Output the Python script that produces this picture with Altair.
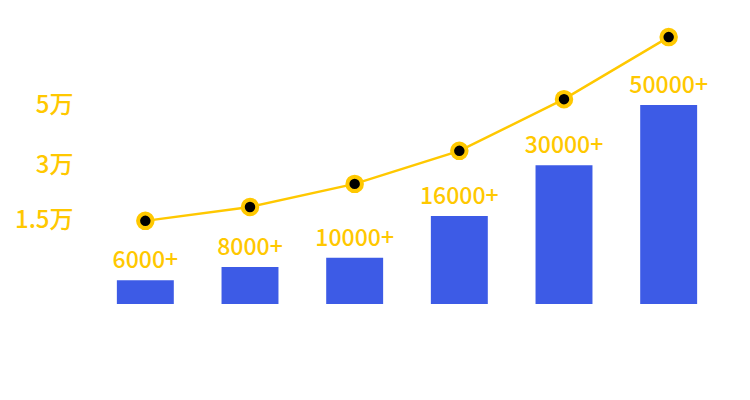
import altair as alt
import pandas as pd

categories = ["A", "B", "C", "D", "E", "F"]
bar_values = [6000, 9300, 11600, 22100, 34900, 50000]
bar_labels = ["6000+", "8000+", "10000+", "16000+", "30000+", "50000+"]
line_values = [20900, 24400, 30200, 38500, 51500, 67100]
tick_values = [20900, 34900, 50000]
tick_labels = ["1.5万", "3万", "5万"]

GOLD = "#FFC800"
BLUE = "#3D5BE6"
FONT = "Noto Sans CJK SC"

df = pd.DataFrame({"cat": categories, "bar": bar_values, "label": bar_labels, "line": line_values})

label_expr = "{" + ",".join(f"'{v}':'{t}'" for v, t in zip(tick_values, tick_labels)) + "}[datum.value]"

x = alt.X("cat:N", sort=categories, axis=None,
          scale=alt.Scale(paddingInner=0.456, paddingOuter=0.228))
yscale = alt.Scale(domain=[0, 71400], nice=False)

bars = alt.Chart(df).mark_bar(color=BLUE).encode(
    x=x,
    y=alt.Y("bar:Q", scale=yscale,
            axis=alt.Axis(values=tick_values, labelExpr=label_expr, domain=False, ticks=False,
                          grid=False, title=None, labelColor=GOLD, labelFontSize=24,
                          labelFont=FONT, labelPadding=20, labelFontWeight=500)),
)

texts = alt.Chart(df).mark_text(color=GOLD, fontSize=23, font=FONT, fontWeight=500,
                                baseline="alphabetic", dy=-12).encode(
    x=x, y=alt.Y("bar:Q", scale=yscale), text="label:N")

line = alt.Chart(df).mark_line(color=GOLD, strokeWidth=2.5).encode(
    x=x, y=alt.Y("line:Q", scale=yscale))

pts = alt.Chart(df).mark_point(filled=True, fill="black", stroke=GOLD, strokeWidth=4,
                               size=210, opacity=1).encode(
    x=x, y=alt.Y("line:Q", scale=yscale))

chart = alt.layer(bars, texts, line, pts).properties(
    width=628, height=284,
    autosize=alt.AutoSizeParams(type="none"),
    padding={"left": 85, "top": 12, "right": 20, "bottom": 20},
).configure_view(stroke=None)

chart.save("out.html", embed_options={"renderer": "svg", "actions": False})
